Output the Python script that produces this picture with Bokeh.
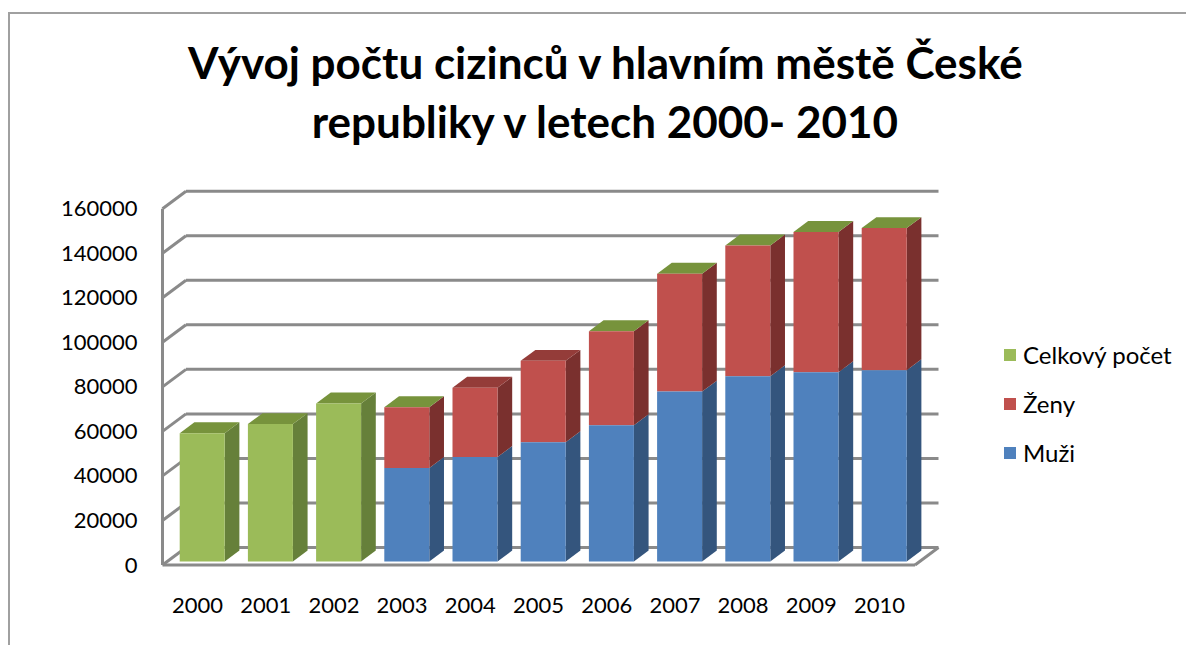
from bokeh.plotting import figure
from bokeh.models import (Range1d, FixedTicker, Label, Legend, LegendItem,
                          ColumnDataSource)
from bokeh.embed import file_html
from bokeh.resources import INLINE

# ---------------- data ----------------
years = ["2000", "2001", "2002", "2003", "2004", "2005",
         "2006", "2007", "2008", "2009", "2010"]
celkovy_pocet = [57600, 61700, 71000, 0, None, None, 0, 0, 0, 0, 0]
zeny = [None, None, None, 27300, 31100, 36500, 42200, 52900, 58700, 63000, 63800]
muzi = [None, None, None, 42000, 46900, 53600, 61200, 76300, 83200, 85000, 85900]
y_ticks = [0, 20000, 40000, 60000, 80000, 100000, 120000, 140000, 160000]
title_lines = ["Vývoj počtu cizinců v hlavním městě České",
               "republiky v letech 2000- 2010"]
series_names = ["Celkový počet", "Ženy", "Muži"]

# ---------------- styles / geometry ----------------
FONT = "Lato"
GREEN = ("#9BBB59", "#66803A", "#77933C")   # front, side, top
RED = ("#C0504D", "#7A302E", "#943C39")
BLUE = ("#4F81BD", "#34557D", "#3E6597")
GRID = "#8A8A8A"

OFF_X, OFF_Y = 10, 14            # canvas origin on the page (css margin + border)
W, H = 1178, 633
PX_X = 68.2                      # pixels per category
PX_Y = 2.227e-3                  # pixels per unit of value
X0_PAGE, Y0_PAGE = 197.0, 564.5
F_LEFT, F_RIGHT, F_TOP, F_BOTTOM = 158, OFF_X + W, OFF_Y, 568   # frame, page px


def px_x(page_x):
    return (page_x - X0_PAGE) / PX_X


def px_y(page_y):
    return (Y0_PAGE - page_y) / PX_Y


DEPTH_X = 23.5 / PX_X
DEPTH_Y = 17.5 / PX_Y
F0, F1 = 0.2, 0.825
BAR_W = 45 / PX_X

p = figure(width=W, height=H, output_backend="svg", toolbar_location=None,
           x_range=Range1d(px_x(F_LEFT), px_x(F_RIGHT)),
           y_range=Range1d(px_y(F_BOTTOM), px_y(F_TOP)),
           min_border_left=F_LEFT - OFF_X, min_border_right=0,
           min_border_top=0, min_border_bottom=H - (F_BOTTOM - OFF_Y))
p.styles = {"margin-left": "8px", "margin-top": "12px",
            "border-left": "2px solid #A0A0A0", "border-top": "2px solid #A0A0A0"}
p.outline_line_color = None
p.grid.visible = False
p.background_fill_color = "white"
p.border_fill_color = "white"

# axes
p.yaxis.ticker = FixedTicker(ticks=y_ticks)
p.yaxis.major_label_overrides = {t: str(t) for t in y_ticks}
p.xaxis.ticker = FixedTicker(ticks=list(range(len(years))))
p.xaxis.major_label_overrides = {i: y for i, y in enumerate(years)}
for ax in (p.xaxis, p.yaxis):
    ax.axis_line_color = None
    ax.major_tick_line_color = None
    ax.minor_tick_line_color = None
    ax.major_tick_out = 0
    ax.major_tick_in = 0
    ax.major_label_text_font = FONT
    ax.major_label_text_font_size = "22px"
    ax.major_label_text_color = "black"
p.yaxis.major_label_standoff = F_LEFT - 137
p.xaxis.major_label_standoff = 29

# walls and floor
i_fl = px_x(162)
i_bl = i_fl + DEPTH_X
i_br = px_x(938)
i_ffr = i_br - DEPTH_X
gx, gy = [], []
for t in y_ticks:
    gx.append([i_bl, i_br]); gy.append([t + DEPTH_Y, t + DEPTH_Y])
    gx.append([i_fl, i_bl]); gy.append([t, t + DEPTH_Y])
gx.append([i_fl, i_fl]); gy.append([0, y_ticks[-1]])
gx.append([i_fl, i_ffr]); gy.append([0, 0])
gx.append([i_ffr, i_br]); gy.append([0, DEPTH_Y])
p.multi_line(gx, gy, line_color=GRID, line_width=3)

# bars
ox0, oy0 = F0 * DEPTH_X, F0 * DEPTH_Y
dd_x, dd_y = (F1 - F0) * DEPTH_X, (F1 - F0) * DEPTH_Y

fronts = {k: dict(left=[], right=[], bottom=[], top=[]) for k in series_names}
side_xs, side_ys, side_c = [], [], []
top_xs, top_ys, top_c = [], [], []

for i in range(len(years)):
    segs = []
    if celkovy_pocet[i]:
        segs.append(("Celkový počet", 0, celkovy_pocet[i], GREEN))
    if muzi[i]:
        segs.append(("Muži", 0, muzi[i], BLUE))
        segs.append(("Ženy", muzi[i], muzi[i] + zeny[i], RED))
    xl = i + ox0 - BAR_W / 2
    xr = i + ox0 + BAR_W / 2
    for name, v0, v1, col in segs:
        f = fronts[name]
        f["left"].append(xl); f["right"].append(xr)
        f["bottom"].append(v0 + oy0); f["top"].append(v1 + oy0)
        side_xs.append([xr, xr + dd_x, xr + dd_x, xr])
        side_ys.append([v0 + oy0, v0 + oy0 + dd_y, v1 + oy0 + dd_y, v1 + oy0])
        side_c.append(col[1])
    name, v0, v1, col = segs[-1]
    topcol = GREEN[2] if celkovy_pocet[i] is not None else col[2]
    top_xs.append([xl, xr, xr + dd_x, xl + dd_x])
    top_ys.append([v1 + oy0, v1 + oy0, v1 + oy0 + dd_y, v1 + oy0 + dd_y])
    top_c.append(topcol)

p.patches(side_xs, side_ys, fill_color=side_c, line_color=None)
p.patches(top_xs, top_ys, fill_color=top_c, line_color=None)

renderers = {}
for name, col in zip(series_names, (GREEN, RED, BLUE)):
    renderers[name] = p.quad(source=ColumnDataSource(fronts[name]),
                             left="left", right="right", bottom="bottom", top="top",
                             fill_color=col[0], line_color=None)

legend = Legend(items=[LegendItem(label=n, renderers=[renderers[n]]) for n in series_names],
                location=(1002 - F_LEFT, F_BOTTOM - 467),
                glyph_width=15, glyph_height=15, label_standoff=6,
                spacing=20, padding=0, margin=0,
                label_text_font=FONT, label_text_font_size="24px",
                label_text_color="black",
                border_line_color=None, background_fill_alpha=0)
p.add_layout(legend, "center")

# title
for txt, base in zip(title_lines, (61, 120)):
    p.add_layout(Label(x=px_x(606), y=px_y(base), text=txt, text_align="center",
                       text_baseline="alphabetic", text_font=FONT,
                       text_font_style="bold", text_font_size="44px",
                       text_color="black"))

open("out.html", "w").write(file_html(p, INLINE))
